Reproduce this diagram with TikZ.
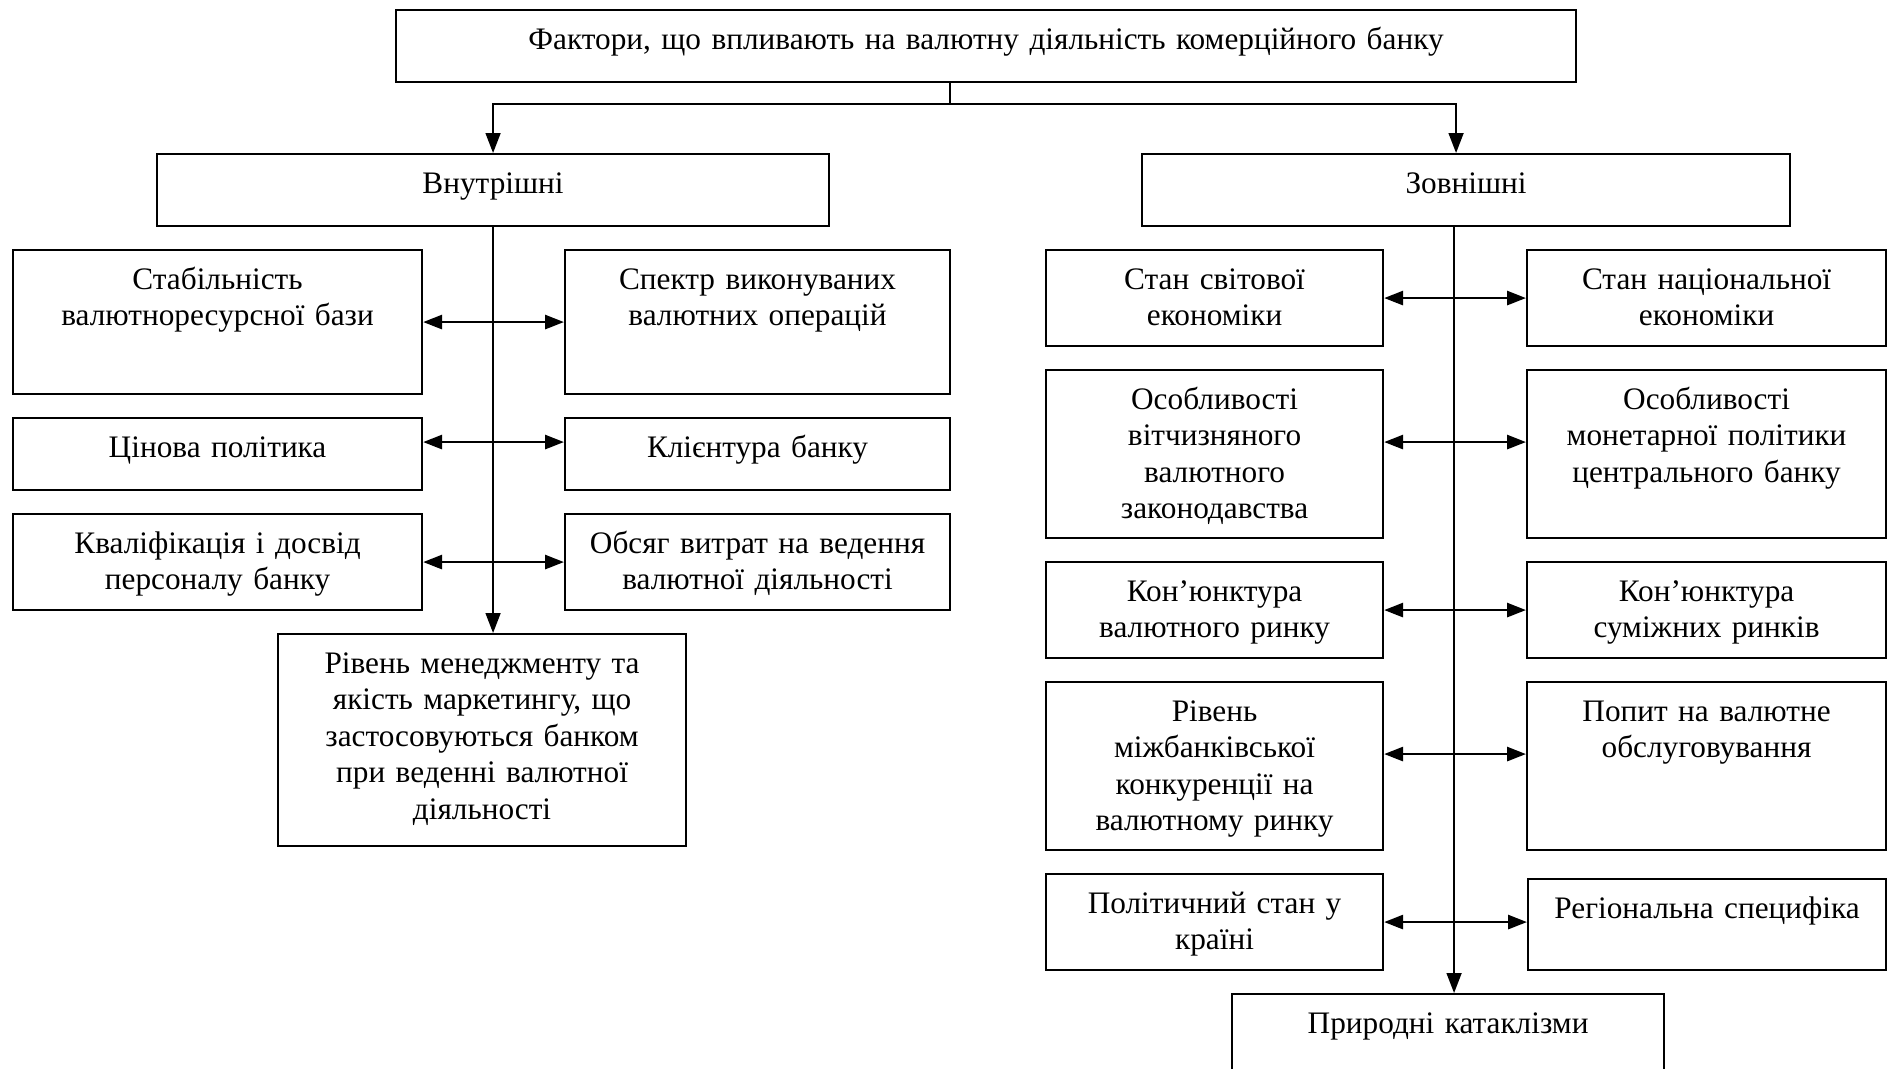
\documentclass[tikz,border=0pt]{standalone}
\usepackage{fontspec}
\setmainfont{Liberation Serif}
\usetikzlibrary{arrows.meta}
\tikzset{
  fbox/.style 2 args={draw, line width=0.6pt, anchor=north west, align=center,
    inner sep=0pt, text width=#1cm, text height=3.9mm, text depth=#2cm,
    font=\fontsize{8.9}{10.4}\selectfont},
  link/.style={{Triangle[length=1.9mm,width=1.4mm]}-{Triangle[length=1.9mm,width=1.4mm]}, line width=0.8pt},
  feed/.style={-{Triangle[length=2mm,width=1.5mm]}, line width=0.45pt}
}
\begin{document}
\begin{tikzpicture}
 \useasboundingbox (0,0) rectangle (18.94,-10.68);
 % top and the two groups
 \node[fbox={11.80}{0.33}] (top) at (3.95,-0.09) {Фактори, що впливають на валютну діяльність комерційного банку};
 \node[fbox={6.72}{0.33}] (inner) at (1.56,-1.53) {Внутрішні};
 \node[fbox={6.48}{0.33}] (outer) at (11.41,-1.53) {Зовнішні};
 \coordinate (split) at (9.50,-1.04);
 \draw[line width=0.45pt] (split |- top.south) -- (split);
 \draw[feed] (split) -| (inner.north);
 \draw[feed] (split) -| ([xshift=-1mm]outer.north);
 % internal factors
 \node[fbox={4.09}{1.05}] (stab) at (0.12,-2.49) {Стабільність\\валютноресурсної бази};
 \node[fbox={3.85}{1.05}] (spectr) at (5.64,-2.49) {Спектр виконуваних\\валютних операцій};
 \node[fbox={4.09}{0.33}] (price) at (0.12,-4.17) {Цінова політика};
 \node[fbox={3.85}{0.33}] (clients) at (5.64,-4.17) {Клієнтура банку};
 \node[fbox={4.09}{0.57}] (staff) at (0.12,-5.13) {Кваліфікація і досвід\\персоналу банку};
 \node[fbox={3.85}{0.57}] (costs) at (5.64,-5.13) {Обсяг витрат на ведення\\валютної діяльності};
 \node[fbox={4.08}{1.73}] (mgmt) at (2.77,-6.33) {Рівень менеджменту та\\якість маркетингу, що\\застосовуються банком\\при веденні валютної\\діяльності};
 \draw[feed] (inner.south) -- (inner.south |- mgmt.north);
 \draw[link] (stab.east) -- (spectr.west);
 \draw[link] ([yshift=1.2mm]price.east) -- ([yshift=1.2mm]clients.west);
 \draw[link] (staff.east) -- (costs.west);
 % external factors
 \node[fbox={3.37}{0.57}] (world) at (10.45,-2.49) {Стан світової\\економіки};
 \node[fbox={3.59}{0.57}] (national) at (15.26,-2.49) {Стан національної\\економіки};
 \node[fbox={3.37}{1.29}] (law) at (10.45,-3.69) {Особливості\\вітчизняного\\валютного\\законодавства};
 \node[fbox={3.59}{1.29}] (monetary) at (15.26,-3.69) {Особливості\\монетарної політики\\центрального банку};
 \node[fbox={3.37}{0.57}] (fxmarket) at (10.45,-5.61) {Кон’юнктура\\валютного ринку};
 \node[fbox={3.59}{0.57}] (adjacent) at (15.26,-5.61) {Кон’юнктура\\суміжних ринків};
 \node[fbox={3.37}{1.29}] (rivalry) at (10.45,-6.81) {Рівень\\міжбанківської\\конкуренції на\\валютному ринку};
 \node[fbox={3.59}{1.29}] (demand) at (15.26,-6.81) {Попит на валютне\\обслуговування};
 \node[fbox={3.37}{0.57}] (politics) at (10.45,-8.73) {Політичний стан у\\країні};
 \node[fbox={3.58}{0.52}] (region) at (15.27,-8.78) {Регіональна специфіка};
 \node[fbox={4.32}{0.85}] (nature) at (12.31,-9.93) {Природні катаклізми};
 \draw[feed] ([xshift=0.6mm]nature.north |- outer.south) -- ([xshift=0.6mm]nature.north);
 \draw[link] (world.east) -- (national.west);
 \draw[link] ([yshift=1.2mm]law.east) -- ([yshift=1.2mm]monetary.west);
 \draw[link] (fxmarket.east) -- (adjacent.west);
 \draw[link] ([yshift=1.2mm]rivalry.east) -- ([yshift=1.2mm]demand.west);
 \draw[link] (politics.east) -- (politics.east -| region.west);
\end{tikzpicture}
\end{document}
